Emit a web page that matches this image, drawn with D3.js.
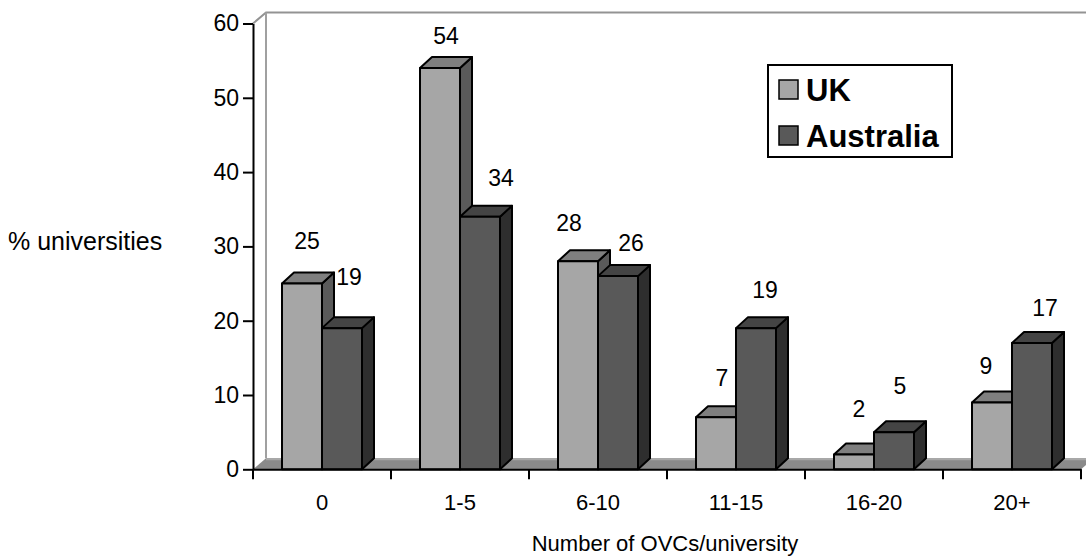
<!DOCTYPE html>
<html>
<head>
<meta charset="utf-8">
<script src="https://cdn.jsdelivr.net/npm/d3@7"></script>
<style>
  html, body { margin: 0; padding: 0; background: #fff; }
  svg { display: block; font-family: "Liberation Sans", Arial, sans-serif; }
</style>
</head>
<body>
<svg id="chart" width="1086" height="558"></svg>
<script>
// Share of universities by number of OVCs, UK vs Australia
const categories = ["0", "1-5", "6-10", "11-15", "16-20", "20+"];
const seriesNames = ["UK", "Australia"];
const ukValues = [25, 54, 28, 7, 2, 9];
const australiaValues = [19, 34, 26, 19, 5, 17];
const yTicks = [0, 10, 20, 30, 40, 50, 60];

// Label nudges (px): baseline offset from the top-centre of each bar's front face
const labelNudge = {
  UK:        [[5, -35], [6, -24], [-9, -30], [6, -31], [5, -37], [-6, -28]],
  Australia: [[7, -43], [21, -31], [13, -25], [9, -30], [6, -38], [13, -27]]
};

const svg = d3.select("#chart");
const fillFront = { UK: "#a6a6a6", Australia: "#595959" };
const fillTop   = { UK: "#7f7f7f", Australia: "#444444" };
const fillSide  = { UK: "#5a5a5a", Australia: "#2e2e2e" };
const FONT = "Liberation Sans, Arial, sans-serif";

const plotLeft = 253, plotRight = 1081;
const y = d3.scaleLinear().domain([0, 60]).range([469.3, 23.5]);
const x0 = d3.scaleBand().domain(categories).range([plotLeft, plotRight]);
const x1 = d3.scaleBand().domain(seriesNames).range([0, x0.bandwidth()]).paddingOuter(0.725);

// 3D depth offsets
const WDX = 13, WDY = -11;  // walls and floor
const BDX = 12, BDY = -11;  // bars

const pts = a => a.map(p => p.join(",")).join(" ");
const y0 = y(0), yTop = y(60);

// back wall + left side wall
const walls = svg.append("g");
walls.append("polygon")
  .attr("points", pts([[plotLeft, y0], [plotLeft + WDX, y0 + WDY], [plotLeft + WDX, yTop + WDY], [plotLeft, yTop]]))
  .attr("fill", "#fff");
walls.append("polyline")
  .attr("points", pts([[plotLeft, yTop], [plotLeft + WDX, yTop + WDY], [1086, yTop + WDY]]))
  .attr("fill", "none").attr("stroke", "#939393").attr("stroke-width", 2);
walls.append("line")
  .attr("x1", plotLeft + WDX).attr("x2", plotLeft + WDX)
  .attr("y1", yTop + WDY).attr("y2", y0 + WDY)
  .attr("stroke", "#a0a0a0").attr("stroke-width", 2);

// floor
walls.append("polygon")
  .attr("points", pts([[plotLeft, y0], [plotLeft + WDX, y0 + WDY], [plotRight + WDX, y0 + WDY], [plotRight, y0]]))
  .attr("fill", "#8a8a8a");
walls.append("line")
  .attr("x1", plotLeft + WDX).attr("x2", plotRight + WDX)
  .attr("y1", y0 + WDY + 1).attr("y2", y0 + WDY + 1)
  .attr("stroke", "#a8a8a8").attr("stroke-width", 2);

// bars
const rows = categories.map((c, i) => ({
  cat: c, i,
  vals: [{ s: "UK", v: ukValues[i] }, { s: "Australia", v: australiaValues[i] }]
}));

const barLayer = svg.append("g");
rows.forEach(r => {
  r.vals.forEach(d => {
    const xl = x0(r.cat) + x1(d.s), xr = xl + x1.bandwidth();
    const yt = y(d.v);
    const g = barLayer.append("g")
      .attr("stroke", "#000").attr("stroke-width", 2).attr("stroke-linejoin", "round");
    g.append("polygon")
      .attr("points", pts([[xr, y0], [xr + BDX, y0 + BDY], [xr + BDX, yt + BDY], [xr, yt]]))
      .attr("fill", fillSide[d.s]);
    g.append("polygon")
      .attr("points", pts([[xl, yt], [xl + BDX, yt + BDY], [xr + BDX, yt + BDY], [xr, yt]]))
      .attr("fill", fillTop[d.s]);
    g.append("rect")
      .attr("x", xl).attr("y", yt).attr("width", xr - xl).attr("height", y0 - yt)
      .attr("fill", fillFront[d.s]);
  });
});

// value labels
const labelLayer = svg.append("g").attr("font-size", 23).attr("text-anchor", "middle").attr("fill", "#000");
rows.forEach(r => {
  r.vals.forEach(d => {
    const nd = labelNudge[d.s][r.i];
    labelLayer.append("text")
      .attr("x", x0(r.cat) + x1(d.s) + x1.bandwidth() / 2 + nd[0])
      .attr("y", y(d.v) + nd[1])
      .text(d.v);
  });
});

// y axis
const yAxis = svg.append("g")
  .attr("transform", `translate(${plotLeft},0)`)
  .call(d3.axisLeft(y).tickValues(yTicks).tickSize(10).tickPadding(4).tickSizeOuter(0));
yAxis.select(".domain").attr("stroke", "#000").attr("stroke-width", 2);
yAxis.selectAll(".tick line").attr("stroke", "#000").attr("stroke-width", 2);
yAxis.selectAll(".tick text").attr("font-size", 23).attr("font-family", FONT).attr("fill", "#000");

// x axis: labels at category centres, ticks at category boundaries
const xAxis = svg.append("g")
  .attr("transform", `translate(0,${y0})`)
  .call(d3.axisBottom(x0).tickSize(0).tickPadding(25).tickSizeOuter(0));
xAxis.select(".domain").attr("stroke", "#000").attr("stroke-width", 2);
xAxis.selectAll(".tick text").attr("font-size", 22).attr("font-family", FONT).attr("fill", "#000");
const bounds = categories.map(c => x0(c)).concat([plotRight]);
xAxis.selectAll("line.bound").data(bounds).join("line")
  .attr("class", "bound")
  .attr("x1", d => d).attr("x2", d => d).attr("y1", 0).attr("y2", 10)
  .attr("stroke", "#000").attr("stroke-width", 2);

// axis titles
svg.append("text").attr("x", 665).attr("y", 551).attr("text-anchor", "middle")
  .attr("font-size", 22).text("Number of OVCs/university");
svg.append("text").attr("x", 8).attr("y", 250).attr("text-anchor", "start")
  .attr("font-size", 25).text("% universities");

// legend
const legend = svg.append("g");
legend.append("rect").attr("x", 768).attr("y", 65).attr("width", 184).attr("height", 92)
  .attr("fill", "#fff").attr("stroke", "#000").attr("stroke-width", 2);
seriesNames.forEach((s, i) => {
  const ly = 80 + i * 46;
  legend.append("rect").attr("x", 779).attr("y", ly).attr("width", 19).attr("height", 19)
    .attr("fill", fillFront[s]).attr("stroke", "#000").attr("stroke-width", 1.5);
  legend.append("text").attr("x", 806).attr("y", ly + 21)
    .attr("font-size", 31).attr("font-weight", "bold").text(s);
});
</script>
</body>
</html>
